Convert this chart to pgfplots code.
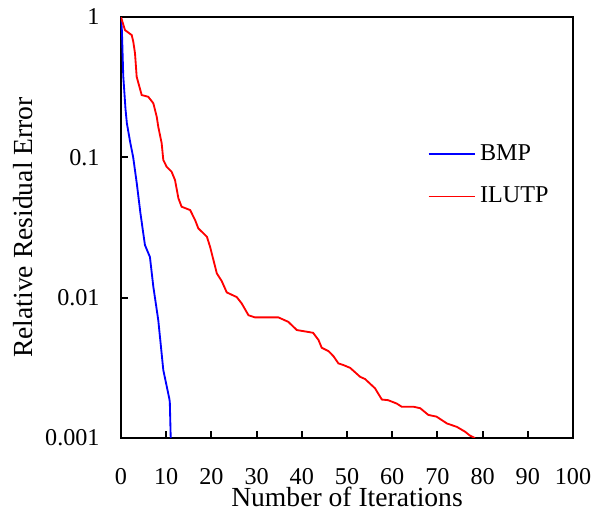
\documentclass[border=0pt]{standalone}
\usepackage{fontspec}
\setmainfont{Liberation Serif}
\usepackage{pgfplots}
\pgfplotsset{compat=1.18}
\pgfplotsset{longline legend/.style={legend image code/.code={\draw[##1] (0pt,0pt) -- (20pt,0pt);}}}
\begin{document}
\begin{tikzpicture}
  \begin{axis}[
      name=ax,
      width=196.5pt, height=183pt, scale only axis,
      ymode=log, xmin=0, xmax=100, ymin=0.001, ymax=1,
      xtick={0,10,...,100},
      ytick={0.001,0.01,0.1,1}, yticklabels={0.001,0.01,0.1,1},
      yminorticks=false,
      tick align=inside, xtick pos=left, ytick pos=left,
      major tick length=3pt,
      axis line style={line width=0.9pt}, tick style={line width=0.9pt, black},
      /pgf/number format/assume math mode=true,
      tick label style={font=\fontsize{10.5}{12}\selectfont},
      yticklabel style={xshift=-5.8pt},
      xticklabel style={inner sep=1pt, yshift=-12.1pt},
      label style={font=\fontsize{12}{14}\selectfont},
      xlabel={Number of Iterations}, ylabel={Relative Residual Error},
      xlabel style={inner sep=1pt, at={(axis description cs:0.5,-0.111)}, anchor=north},
      ylabel style={at={(axis description cs:-0.177,0.5)}, anchor=south},
      legend style={at={(0.662,0.72)}, anchor=north west, draw=none, fill=none,
        font=\fontsize{10.5}{12}\selectfont, row sep=6pt},
      legend cell align=left, longline legend,
    ]
    \addplot[blue, line width=0.8pt] coordinates {
      (0,1) (0.2,0.8) (0.5,0.38) (1,0.22) (1.3,0.175) (2,0.13) (2.7,0.1)
      (3.5,0.065) (4.3,0.04) (5.3,0.0237) (6.4,0.0195) (7.15,0.012)
      (8.25,0.0069) (9.36,0.00305) (10.7,0.0019) (10.8,0.0018) (11,0.001)};
    \addlegendentry{BMP}
    \addplot[red, line width=0.8pt] coordinates {
      (0,1) (0.88,0.807) (2.37,0.744) (2.72,0.667) (3.1,0.551) (3.47,0.375)
      (4.58,0.278) (6.04,0.270) (7.15,0.243) (7.9,0.195) (8.25,0.165)
      (9.0,0.126) (9.36,0.0957) (10.1,0.0857) (11.2,0.0789) (11.95,0.0689)
      (12.7,0.0511) (13.4,0.0445) (15.3,0.0421) (16.4,0.0357) (17.1,0.0312)
      (19.0,0.0272) (19.7,0.0231) (21.2,0.0149) (22.3,0.0131) (23.4,0.0109)
      (25.6,0.0101) (26.7,0.0091) (28.2,0.0075) (29.6,0.00724) (34.8,0.00724)
      (37.0,0.00673) (38.9,0.00588) (42.5,0.00562) (43.7,0.00499) (44.4,0.00440)
      (45.9,0.00416) (47.0,0.00383) (48.1,0.0034) (49.2,0.00331) (50.7,0.00316)
      (52.9,0.00273) (54.0,0.00263) (56.2,0.00226) (57.7,0.00188) (59.1,0.00186)
      (61.0,0.00176) (62.1,0.00167) (64.7,0.00167) (66.2,0.00163) (68.0,0.00146)
      (69.8,0.00142) (72.1,0.00127) (74.3,0.00120) (76.1,0.00111) (77.2,0.00104)
      (78.3,0.001)};
    \addlegendentry{ILUTP}
  \end{axis}
  \path ([xshift=-52.6pt,yshift=-34.8pt]ax.south west) rectangle ([xshift=12.6pt,yshift=7.4pt]ax.north east);
\end{tikzpicture}
\end{document}
